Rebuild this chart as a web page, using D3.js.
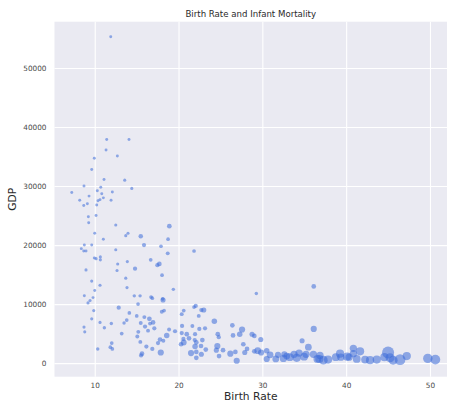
<!DOCTYPE html>
<html>
<head>
<meta charset="utf-8">
<script src="https://cdn.jsdelivr.net/npm/d3@7"></script>
<style>
  html, body { margin: 0; padding: 0; background: #ffffff; }
  svg { display: block; }
  text { font-family: "DejaVu Sans", sans-serif; }
</style>
</head>
<body>
<svg id="chart" width="449" height="409"></svg>
<script>
// Birth rate (per 1000), GDP per capita ($) and infant mortality (per 1000 births), one entry per country
const birthRate = [
  11.91, 11.43, 14.09, 11.35, 12.70, 9.95, 9.64, 11.11, 13.58, 8.72,
  10.72, 14.42, 7.26, 10.31, 12.10, 10.84, 9.32, 11.03, 10.63, 8.21,
  11.95, 10.39, 9.12, 8.69, 10.24, 9.24, 10.16, 9.28, 12.51, 18.90,
  10.00, 13.97, 13.70, 15.49, 11.03, 18.75, 15.88, 8.76, 9.64, 8.40,
  8.69, 8.96, 12.51, 17.91, 18.71, 9.95, 10.16, 10.67, 10.67, 13.89,
  16.68, 17.71, 17.47, 12.74, 8.96, 12.66, 14.81, 18.03, 13.70, 9.64,
  10.63, 13.85, 19.38, 10.00, 8.76, 9.80, 14.72, 15.41, 16.72, 16.87,
  18.11, 18.15, 9.44, 9.20, 15.17, 12.86, 22.05, 21.85, 23.01, 22.72,
  18.27, 18.00, 20.62, 9.88, 14.13, 20.38, 22.41, 15.01, 15.92, 16.52,
  9.64, 13.82, 24.27, 13.50, 10.63, 15.49, 16.96, 16.60, 11.98, 26.42,
  27.58, 16.00, 20.42, 21.65, 23.16, 8.72, 11.15, 17.11, 18.87, 22.48,
  16.36, 19.58, 15.20, 8.81, 13.22, 20.38, 20.98, 21.97, 24.68, 18.59,
  28.77, 27.30, 15.08, 18.19, 21.25, 21.93, 22.84, 24.80, 20.62, 20.30,
  22.12, 17.79, 17.55, 12.03, 15.44, 24.63, 27.73, 16.87, 16.16, 22.68,
  21.97, 10.36, 11.86, 12.10, 23.25, 24.51, 28.17, 21.49, 22.72, 15.64,
  17.88, 26.78, 26.18, 27.90, 24.83, 29.04, 15.53, 22.12, 26.94, 21.85,
  29.28, 36.13, 29.04, 29.81, 26.50, 36.13, 34.74, 20.58, 35.49, 25.31,
  29.45, 29.85, 30.52, 22.12, 30.92, 31.87, 32.62, 32.91, 33.78, 34.38,
  35.21, 36.09, 30.52, 31.60, 32.51, 33.27, 34.10, 34.98, 36.56, 36.88,
  36.80, 37.28, 37.84, 38.76, 39.27, 39.36, 40.11, 40.35, 40.86, 40.86,
  41.66, 41.26, 42.25, 42.85, 43.65, 45.00, 44.56, 45.24, 45.60, 46.43,
  47.23, 49.74, 50.64
];
const gdp = [
  55300, 37900, 37900, 36100, 35100, 34700, 32800, 31100, 31000, 30000,
  29800, 29600, 28900, 29200, 29000, 28700, 28300, 28000, 27700, 27600,
  27600, 27500, 27000, 26700, 26800, 24800, 25000, 23800, 23400, 23200,
  22000, 22000, 21600, 21500, 21000, 21000, 20000, 20000, 20000, 19400,
  19000, 19000, 19200, 19800, 18600, 17800, 17700, 18000, 17500, 17200,
  17500, 16800, 16600, 16800, 15800, 15700, 16000, 14900, 14400, 13900,
  13200, 12800, 12500, 12300, 11400, 11100, 11400, 11400, 11200, 11000,
  10900, 10700, 10600, 10200, 10000, 9400, 9700, 9500, 9000, 9000,
  8900, 8700, 8900, 8900, 8500, 8300, 8000, 8000, 7800, 7500,
  7500, 7300, 7100, 6800, 6900, 6800, 6900, 6700, 6700, 6400,
  5700, 6200, 6300, 6300, 5900, 6100, 6000, 5900, 5700, 5800,
  5500, 5400, 5300, 5300, 5000, 5100, 4900, 4900, 4900, 4700,
  4900, 4900, 4500, 3800, 4200, 3900, 3900, 4400, 3500, 3200,
  3500, 4000, 3400, 3400, 3600, 2900, 3200, 2400, 2800, 2900,
  2800, 2400, 2700, 2400, 2300, 2200, 2400, 1700, 1500, 1600,
  1800, 1900, 1600, 1800, 1200, 2000, 1300, 900, 400, 19000,
  11800, 13000, 4600, 4000, 4700, 5800, 3800, 4100, 2700, 2200,
  2100, 1800, 2100, 1900, 1400, 1400, 1500, 1200, 1500, 1700,
  1500, 1500, 700, 700, 800, 1000, 900, 1100, 700, 1300,
  700, 500, 600, 1000, 1600, 1000, 1100, 1000, 2500, 1600,
  2000, 700, 600, 500, 600, 1800, 1000, 900, 500, 600,
  1200, 800, 600
];
const infantMortality = [
  5, 5, 5, 5, 5, 5, 5, 5, 6, 5,
  5, 6, 5, 5, 5, 5, 5, 5, 5, 5,
  5, 5, 5, 5, 5, 5, 5, 5, 6, 20,
  5, 6, 6, 18, 5, 10, 15, 5, 5, 5,
  5, 5, 6, 10, 12, 5, 6, 6, 6, 6,
  10, 20, 15, 6, 6, 6, 15, 10, 6, 6,
  6, 6, 8, 5, 5, 5, 8, 8, 10, 10,
  10, 25, 6, 6, 10, 15, 15, 10, 25, 15,
  10, 12, 10, 6, 10, 12, 12, 10, 12, 20,
  6, 10, 30, 8, 6, 12, 20, 12, 8, 20,
  40, 15, 15, 12, 15, 6, 8, 15, 12, 15,
  12, 15, 12, 6, 10, 15, 20, 15, 20, 30,
  25, 30, 12, 12, 20, 15, 20, 15, 35, 20,
  20, 20, 15, 10, 12, 40, 20, 15, 15, 20,
  30, 8, 10, 10, 20, 25, 20, 40, 25, 20,
  40, 20, 40, 25, 20, 20, 15, 20, 40, 10,
  8, 20, 20, 25, 20, 40, 25, 15, 50, 20,
  50, 40, 30, 20, 50, 40, 40, 50, 60, 60,
  60, 60, 40, 50, 60, 70, 80, 70, 70, 60,
  80, 90, 80, 70, 80, 60, 80, 60, 60, 60,
  80, 70, 70, 80, 80, 190, 80, 100, 100, 150,
  80, 110, 120
];
const xTicks = [10, 20, 30, 40, 50];
const yTicks = [0, 10000, 20000, 30000, 40000, 50000];

const svg = d3.select("#chart");
const margin = { left: 54.5, right: 2, top: 21.7, bottom: 32.3 };
const W = 449, H = 409;
const plotW = W - margin.left - margin.right;
const plotH = H - margin.top - margin.bottom;

const x = d3.scaleLinear().domain([5.2, 52.03]).range([0, plotW]);
const y = d3.scaleLinear().domain([-2300, 57850]).range([plotH, 0]);
const r = d3.scaleSqrt().domain([0, 190]).range([0, 5.4]);

const g = svg.append("g").attr("transform", `translate(${margin.left},${margin.top})`);

// panel background
g.append("rect").attr("width", plotW).attr("height", plotH).attr("fill", "#eaeaf2");

// grid lines and tick labels
const xAxis = d3.axisBottom(x).tickValues(xTicks).tickSize(plotH).tickPadding(6).tickFormat(d3.format("d"));
const yAxis = d3.axisLeft(y).tickValues(yTicks).tickSize(plotW).tickPadding(8).tickFormat(d3.format("d"));

const gx = g.append("g").call(xAxis);
const gy = g.append("g").attr("transform", `translate(${plotW},0)`).call(yAxis);
[gx, gy].forEach(a => {
  a.select(".domain").remove();
  a.selectAll(".tick line").attr("stroke", "#ffffff").attr("stroke-width", 1.1);
  a.selectAll(".tick text").attr("fill", "#4a4a4a").attr("font-size", 7.3).attr("font-family", "DejaVu Sans, sans-serif");
});

// points, sized by infant mortality
const pts = birthRate.map((b, i) => ({ b, v: gdp[i], m: infantMortality[i] }));
g.append("g").selectAll("circle").data(pts).join("circle")
  .attr("cx", d => x(d.b))
  .attr("cy", d => y(d.v))
  .attr("r", d => r(d.m) + 0.6)
  .attr("fill", "#3d6bd8")
  .attr("fill-opacity", 0.55);

// title and axis labels
svg.append("text").attr("x", margin.left + plotW / 2).attr("y", 17)
  .attr("text-anchor", "middle").attr("font-size", 8.6).attr("fill", "#2a2a2a")
  .text("Birth Rate and Infant Mortality");
svg.append("text").attr("x", margin.left + plotW / 2).attr("y", 400)
  .attr("text-anchor", "middle").attr("font-size", 10.7).attr("fill", "#2a2a2a")
  .text("Birth Rate");
svg.append("text").attr("transform", `translate(16,${margin.top + plotH / 2}) rotate(-90)`)
  .attr("text-anchor", "middle").attr("font-size", 10.7).attr("fill", "#2a2a2a")
  .text("GDP");
</script>
</body>
</html>
